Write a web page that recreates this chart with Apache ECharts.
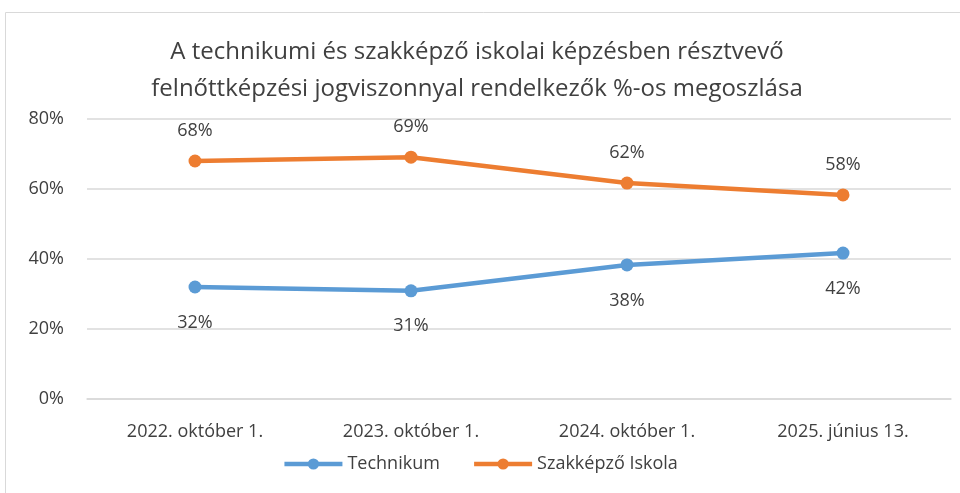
<!DOCTYPE html>
<html>
<head>
<meta charset="utf-8">
<script src="https://cdn.jsdelivr.net/npm/echarts@6/dist/echarts.min.js"></script>
<style>
  html, body { margin: 0; padding: 0; background: #fff; }
  #chart { width: 960px; height: 493px; }
</style>
</head>
<body>
<div id="chart"></div>
<script>
const categories = ['2022. október 1.', '2023. október 1.', '2024. október 1.', '2025. június 13.']
const technikum = [32.0, 30.9, 38.3, 41.7]
const szakkepzo = [68.0, 69.1, 61.7, 58.3]
const seriesNames = ['Technikum', 'Szakképző Iskola']

const font = '"Open Sans", "Noto Sans", sans-serif'
const textColor = '#404040'

const chart = echarts.init(document.getElementById('chart'))
chart.setOption({
  animation: false,
  textStyle: { fontFamily: font },
  graphic: [{
    type: 'rect',
    shape: { x: 5.5, y: 12.5, width: 970, height: 500 },
    style: { fill: 'none', stroke: '#d9d9d9', lineWidth: 1 },
    silent: true
  }],
  title: {
    text: 'A technikumi és szakképző iskolai képzésben résztvevő\nfelnőttképzési jogviszonnyal rendelkezők %-os megoszlása',
    left: 472,
    top: 29,
    textAlign: 'center',
    textStyle: {
      fontFamily: font,
      fontWeight: 'normal',
      fontSize: 24,
      lineHeight: 37,
      color: textColor
    }
  },
  legend: {
    data: seriesNames,
    bottom: 15,
    left: 'center',
    itemWidth: 58,
    itemHeight: 14,
    itemGap: 32,
    lineStyle: { width: 4.5 },
    textStyle: { fontSize: 18, color: textColor, fontFamily: font }
  },
  grid: {
    left: 87,
    right: 9,
    top: 119,
    bottom: 94
  },
  xAxis: {
    type: 'category',
    data: categories,
    boundaryGap: true,
    axisLine: { show: true, lineStyle: { color: '#d9d9d9', width: 1.5 } },
    axisTick: { show: false },
    axisLabel: { fontSize: 18, color: textColor, margin: 24, fontFamily: font }
  },
  yAxis: {
    type: 'value',
    min: 0,
    max: 80,
    interval: 20,
    axisLine: { show: false },
    axisTick: { show: false },
    axisLabel: {
      fontSize: 18,
      color: textColor,
      margin: 23,
      fontFamily: font,
      formatter: v => v + '%'
    },
    splitLine: { lineStyle: { color: '#d9d9d9', width: 1.5 } }
  },
  series: [
    {
      name: seriesNames[0],
      type: 'line',
      data: technikum,
      color: '#5b9bd5',
      lineStyle: { width: 4.5 },
      symbol: 'circle',
      symbolSize: 13,
      label: {
        show: true,
        position: 'bottom',
        distance: 20,
        fontSize: 18,
        color: textColor,
        fontFamily: font,
        formatter: p => Math.round(p.value) + '%'
      }
    },
    {
      name: seriesNames[1],
      type: 'line',
      data: szakkepzo,
      color: '#ed7d31',
      lineStyle: { width: 4.5 },
      symbol: 'circle',
      symbolSize: 13,
      label: {
        show: true,
        position: 'top',
        distance: 15,
        fontSize: 18,
        color: textColor,
        fontFamily: font,
        formatter: p => Math.round(p.value) + '%'
      }
    }
  ]
})
</script>
</body>
</html>
